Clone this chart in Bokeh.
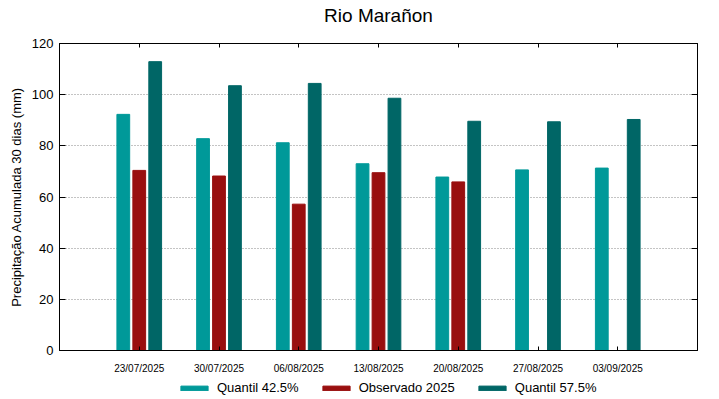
import numpy as np
from bokeh.plotting import figure
from bokeh.layouts import column
from bokeh.models import (ColumnDataSource, Range1d, FixedTicker, LinearAxis,
                          Legend, LegendItem)
from bokeh.transform import dodge
from bokeh.embed import file_html
from bokeh.resources import INLINE

dates = ["23/07/2025", "30/07/2025", "06/08/2025", "13/08/2025",
         "20/08/2025", "27/08/2025", "03/09/2025"]
q425 = [92.3, 82.8, 81.2, 73.0, 67.8, 70.6, 71.3]
obs2025 = [70.4, 68.2, 57.2, 69.5, 65.9, float("nan"), float("nan")]
q575 = [112.9, 103.5, 104.4, 98.6, 89.6, 89.4, 90.3]
yticks = [0, 20, 40, 60, 80, 100, 120]
series_names = ["Quantil 42.5%", "Observado 2025", "Quantil 57.5%"]
title = "Rio Marañon"

FONT = "Liberation Sans"
C1, C2, C3 = "#009999", "#990f0f", "#006666"
xt = list(range(len(dates)))

src = ColumnDataSource(dict(x=xt, q425=q425, obs=obs2025, q575=q575))

p = figure(width=711, height=376, output_backend="svg", toolbar_location=None,
           x_range=Range1d(-1, len(dates)), y_range=Range1d(0, 120),
           min_border_left=59, min_border_right=14, min_border_top=43,
           min_border_bottom=26)

w = 0.16
def bars(fig):
    a = fig.vbar(x=dodge("x", -0.2), top="q425", width=w, source=src,
                 fill_color=C1, line_color=C1)
    b = fig.vbar(x=dodge("x", 0.0), top="obs", width=w, source=src,
                 fill_color=C2, line_color=C2)
    c = fig.vbar(x=dodge("x", 0.2), top="q575", width=w, source=src,
                 fill_color=C3, line_color=C3)
    return a, b, c

bars(p)

p.outline_line_color = "black"
p.outline_line_width = 1
p.outline_line_alpha = 1

p.xgrid.visible = False
p.ygrid.ticker = FixedTicker(ticks=yticks)
p.ygrid.grid_line_color = "#888888"
p.ygrid.grid_line_dash = "1 2"
p.ygrid.grid_line_width = 1

xa = p.xaxis[0]
xa.ticker = FixedTicker(ticks=xt)
xa.major_label_overrides = {i: d for i, d in enumerate(dates)}
xa.major_label_text_font = FONT
xa.major_label_text_font_size = "10px"
xa.major_label_text_color = "black"
xa.major_tick_in = 4
xa.major_tick_out = 0
xa.minor_tick_line_color = None
xa.axis_line_color = "black"
xa.major_label_standoff = 12

ya = p.yaxis[0]
ya.ticker = FixedTicker(ticks=yticks)
ya.major_label_text_font = FONT
ya.major_label_text_font_size = "13px"
ya.major_label_text_color = "black"
ya.major_tick_in = 6
ya.major_tick_out = 0
ya.minor_tick_line_color = None
ya.major_label_standoff = 6
ya.axis_label = "Precipitação Acumulada 30 dias (mm)"
ya.axis_label_text_font = FONT
ya.axis_label_text_font_size = "13px"
ya.axis_label_text_font_style = "normal"
ya.axis_label_text_color = "black"
ya.axis_label_standoff = 5

ra = LinearAxis(ticker=FixedTicker(ticks=yticks), major_tick_in=6,
                major_tick_out=0, minor_tick_line_color=None,
                major_label_overrides={t: "" for t in yticks},
                axis_line_color="black", major_label_standoff=0)
p.add_layout(ra, "right")

# top mirror axis; its axis label carries the chart title
ta = LinearAxis(ticker=FixedTicker(ticks=xt), major_tick_in=4,
                major_tick_out=0, minor_tick_line_color=None,
                major_label_overrides={t: "" for t in xt},
                axis_line_color="black", major_label_standoff=0,
                axis_label=title, axis_label_text_font=FONT,
                axis_label_text_font_size="19px",
                axis_label_text_font_style="normal",
                axis_label_text_color="black", axis_label_standoff=18)
p.add_layout(ta, "above")

# legend strip below the chart (bars here sit outside its visible y range)
q = figure(width=711, height=23, output_backend="svg", toolbar_location=None,
           x_range=p.x_range, y_range=Range1d(1000, 1001),
           x_axis_location=None, y_axis_location=None, min_border=0)
q.grid.visible = False
q.outline_line_color = None
lr = bars(q)

legend = Legend(items=[LegendItem(label=n, renderers=[r])
                       for n, r in zip(series_names, lr)],
                orientation="horizontal", location=(118, 4),
                glyph_width=34, glyph_height=6, label_standoff=6,
                spacing=20, padding=0, margin=0,
                label_text_font=FONT, label_text_font_size="13px",
                label_text_color="black",
                border_line_color=None, background_fill_alpha=0)
q.add_layout(legend, "center")

layout = column(p, q, spacing=0)
open("out.html", "w").write(file_html(layout, INLINE))
